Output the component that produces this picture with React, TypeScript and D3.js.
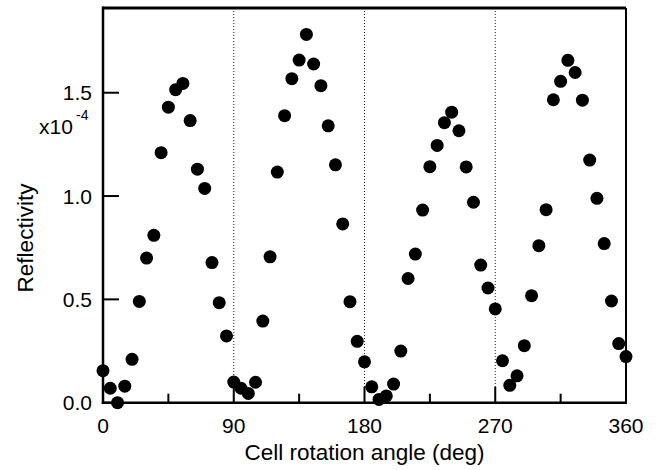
import React from "react";
import * as d3 from "d3";

const angles: number[] = [
  0, 5, 10, 15, 20, 25, 30, 35, 40, 45, 50, 55, 60, 65, 70, 75, 80, 85, 90,
  95, 100, 105, 110, 115, 120, 125, 130, 135, 140, 145, 150, 155, 160, 165, 170, 175, 180,
  185, 190, 195, 200, 205, 210, 215, 220, 225, 230, 235, 240, 245, 250, 255, 260, 265, 270,
  275, 280, 285, 290, 295, 300, 305, 310, 315, 320, 325, 330, 335, 340, 345, 350, 355, 360,
];
const reflectivity: number[] = [
  0.155, 0.07, 0.0, 0.08, 0.21, 0.49, 0.7, 0.81, 1.21, 1.43, 1.515, 1.545, 1.365, 1.13, 1.037, 0.678, 0.484, 0.323, 0.1,
  0.07, 0.045, 0.099, 0.395, 0.706, 1.116, 1.389, 1.568, 1.658, 1.782, 1.639, 1.534, 1.34, 1.151, 0.865, 0.489, 0.297, 0.198,
  0.077, 0.016, 0.033, 0.09, 0.25, 0.601, 0.719, 0.932, 1.142, 1.245, 1.355, 1.406, 1.316, 1.141, 0.97, 0.666, 0.555, 0.454,
  0.203, 0.084, 0.13, 0.276, 0.518, 0.76, 0.934, 1.466, 1.555, 1.657, 1.598, 1.464, 1.174, 0.989, 0.77, 0.492, 0.286, 0.223,
];
const xMajorTicks: number[] = [0, 90, 180, 270, 360];
const xMinorTicks: number[] = [45, 135, 225, 315];
const xGridLines: number[] = [90, 180, 270];
const yTicks: number[] = [0, 0.5, 1.0, 1.5];
const xTitle = "Cell rotation angle (deg)";
const yTitle = "Reflectivity";

const FONT = "'Liberation Sans', Arial, Helvetica, sans-serif";

export default function App() {
  const left = 103, right = 626, top = 8, bottom = 402.7;
  const x = d3.scaleLinear().domain([0, 360]).range([left, right]);
  const y = d3.scaleLinear().domain([0, 1.91]).range([bottom, top]);
  const pts = angles.map((a, i) => ({ a, v: reflectivity[i] }));

  return (
    <svg
      width={662}
      height={470}
      style={{ position: "absolute", left: 0, top: 0, background: "#fff" }}
    >
      <rect x={0} y={0} width={662} height={470} fill="#fff" />
      {xGridLines.map((g) => (
        <line
          key={"g" + g}
          x1={x(g)}
          x2={x(g)}
          y1={top}
          y2={bottom}
          stroke="#222"
          strokeWidth={1}
          strokeDasharray="1,2"
        />
      ))}
      {/* frame */}
      <line x1={left} x2={right} y1={top} y2={top} stroke="#000" strokeWidth={3} />
      <line x1={right} x2={right} y1={top} y2={bottom} stroke="#000" strokeWidth={2} />
      <line x1={left} x2={left} y1={top - 1.5} y2={bottom + 1.25} stroke="#000" strokeWidth={2.5} />
      <line x1={left - 1.25} x2={right + 1} y1={bottom} y2={bottom} stroke="#000" strokeWidth={2.5} />
      {/* x ticks */}
      {xMajorTicks.map((t) => (
        <g key={"xt" + t}>
          <line x1={x(t)} x2={x(t)} y1={bottom} y2={bottom - 16} stroke="#000" strokeWidth={2} />
          <text
            x={x(t)}
            y={433}
            textAnchor="middle"
            fontFamily={FONT}
            fontSize={21}
            fill="#000"
          >
            {t}
          </text>
        </g>
      ))}
      {xMinorTicks.map((t) => (
        <line key={"xm" + t} x1={x(t)} x2={x(t)} y1={bottom} y2={bottom - 9} stroke="#000" strokeWidth={2} />
      ))}
      {/* y ticks */}
      {yTicks.map((t) => (
        <g key={"yt" + t}>
          <line x1={left} x2={left + 16} y1={y(t)} y2={y(t)} stroke="#000" strokeWidth={2} />
          <text
            x={92}
            y={y(t)}
            dy="0.36em"
            textAnchor="end"
            fontFamily={FONT}
            fontSize={21}
            fill="#000"
          >
            {t.toFixed(1)}
          </text>
        </g>
      ))}
      <text x={39} y={134} fontFamily={FONT} fontSize={21} fill="#000">
        x10
      </text>
      <text x={76} y={120} fontFamily={FONT} fontSize={14} fill="#000">
        -4
      </text>
      {/* points */}
      {pts.map((p, i) => (
        <circle key={"p" + i} cx={x(p.a)} cy={y(p.v)} r={6.5} fill="#000" />
      ))}
      {/* titles */}
      <text
        x={(left + right) / 2}
        y={460}
        textAnchor="middle"
        fontFamily={FONT}
        fontSize={22.5}
        fill="#000"
      >
        {xTitle}
      </text>
      <text
        transform="translate(33,238) rotate(-90)"
        textAnchor="middle"
        fontFamily={FONT}
        fontSize={22.5}
        fill="#000"
      >
        {yTitle}
      </text>
    </svg>
  );
}
